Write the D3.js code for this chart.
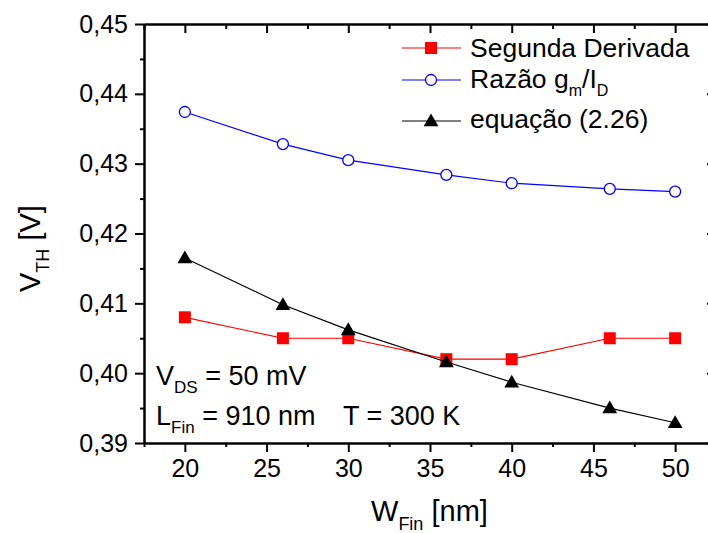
<!DOCTYPE html>
<html><head><meta charset="utf-8">
<script src="https://cdnjs.cloudflare.com/ajax/libs/d3/7.8.5/d3.min.js"></script>
<style>body{margin:0;background:#fff}svg{display:block;font-family:"Liberation Sans",Arial,sans-serif}</style>
</head><body>
<svg id="c" width="708" height="533"></svg>
<script>
const wfin = [20, 26, 30, 36, 40, 46, 50];
const segundaDerivada = [0.408, 0.405, 0.405, 0.402, 0.402, 0.405, 0.405];
const razaoGmId = [0.4374, 0.4328, 0.4305, 0.4284, 0.4272, 0.4264, 0.4260];
const equacao = [0.4165, 0.4098, 0.4062, 0.4016, 0.3987, 0.3950, 0.3929];
const xTicks = [20, 25, 30, 35, 40, 45, 50];
const xMinor = [17.5, 22.5, 27.5, 32.5, 37.5, 42.5, 47.5, 52.5];
const yTicks = [0.39, 0.40, 0.41, 0.42, 0.43, 0.44, 0.45];
const yMinor = [0.395, 0.405, 0.415, 0.425, 0.435, 0.445];

const svg = d3.select("#c");
const L = 144, R = 716, T = 24, B = 443;
const x = d3.scaleLinear().domain([17.5, 52.5]).range([L, R]);
const y = d3.scaleLinear().domain([0.39, 0.45]).range([B, T]);
const fmt = d => d3.format(".2f")(d).replace(".", ",");

function styleAxis(g){ g.select(".domain").attr("stroke","#000").attr("stroke-width",2);
  g.selectAll(".tick line").attr("stroke","#000").attr("stroke-width",2);
  g.selectAll("text").attr("fill","#000").style("font-size","25px").style("font-family","'Liberation Sans',Arial,sans-serif"); }

// bottom
svg.append("g").attr("transform",`translate(0,${B})`)
  .call(d3.axisBottom(x).tickValues(xTicks).tickSize(9).tickPadding(7).tickSizeOuter(0))
  .call(styleAxis);
svg.append("g").attr("transform",`translate(0,${B})`)
  .call(d3.axisBottom(x).tickValues(xMinor).tickSize(4).tickFormat("").tickSizeOuter(0))
  .call(styleAxis);
// top
svg.append("g").attr("transform",`translate(0,${T})`)
  .call(d3.axisBottom(x).tickValues(xTicks).tickSize(9).tickFormat("").tickSizeOuter(0))
  .call(styleAxis);
svg.append("g").attr("transform",`translate(0,${T})`)
  .call(d3.axisBottom(x).tickValues(xMinor).tickSize(5).tickFormat("").tickSizeOuter(0))
  .call(styleAxis);
// left
svg.append("g").attr("transform",`translate(${L},0)`)
  .call(d3.axisLeft(y).tickValues(yTicks).tickSize(9).tickPadding(7).tickFormat(fmt).tickSizeOuter(0))
  .call(styleAxis);
svg.append("g").attr("transform",`translate(${L},0)`)
  .call(d3.axisLeft(y).tickValues(yMinor).tickSize(4).tickFormat("").tickSizeOuter(0))
  .call(styleAxis);
// right
svg.append("g").attr("transform",`translate(${R},0)`)
  .call(d3.axisLeft(y).tickValues(yTicks).tickSize(9).tickFormat("").tickSizeOuter(0))
  .call(styleAxis);

const series = [
  {name:"Segunda Derivada", vals:segundaDerivada, color:"#ff0000", sym:"square"},
  {name:"Razão", vals:razaoGmId, color:"#0000ff", sym:"circle"},
  {name:"equação (2.26)", vals:equacao, color:"#000000", sym:"triangle"}
];
const line = d3.line().x(d=>x(d[0])).y(d=>y(d[1]));
function marker(g, s, cx, cy){
  if(s.sym==="square") g.append("rect").attr("x",cx-6).attr("y",cy-6).attr("width",12).attr("height",12).attr("fill",s.color);
  else if(s.sym==="circle") g.append("circle").attr("cx",cx).attr("cy",cy).attr("r",5.5).attr("fill","#fff").attr("stroke",s.color).attr("stroke-width",1.3);
  else g.append("path").attr("d",d3.symbol(d3.symbolTriangle,95)()).attr("transform",`translate(${cx},${cy+1})`).attr("fill",s.color);
}
series.forEach(s=>{
  const pts = wfin.map((w,i)=>[w,s.vals[i]]);
  svg.append("path").attr("d",line(pts)).attr("fill","none").attr("stroke",s.color).attr("stroke-width",1.2);
  const g = svg.append("g");
  pts.forEach(p=>marker(g,s,x(p[0]),y(p[1])));
});

// legend
const legY = [48, 80, 121];
series.forEach((s,i)=>{
  svg.append("line").attr("x1",402).attr("x2",461).attr("y1",legY[i]).attr("y2",legY[i]).attr("stroke",s.color).attr("stroke-width",1.2);
  marker(svg, s, 431, legY[i]);
});
const tx = (xx,yy,size)=>svg.append("text").attr("x",xx).attr("y",yy).style("font-size",size+"px").attr("fill","#000");
tx(470,57,26.5).text("Segunda Derivada");
{ const t = tx(470,88,26.5); t.append("tspan").text("Razão g");
  t.append("tspan").attr("dy",8).style("font-size","16px").text("m");
  t.append("tspan").attr("dy",-8).text("/I");
  t.append("tspan").attr("dy",8).style("font-size","16px").text("D"); }
tx(470,128,26.5).text("equação (2.26)");

// annotations
{ const t = tx(156,385,27); t.append("tspan").text("V");
  t.append("tspan").attr("dy",8).style("font-size","17px").text("DS");
  t.append("tspan").attr("dy",-8).text(" = 50 mV"); }
{ const t = tx(156,425,27); t.append("tspan").text("L");
  t.append("tspan").attr("dy",8).style("font-size","17px").text("Fin");
  t.append("tspan").attr("dy",-8).text(" = 910 nm"); }
tx(343,425,27).text("T = 300 K");

// axis titles
{ const t = svg.append("text").attr("x",371).attr("y",521).style("font-size","29px");
  t.append("tspan").text("W");
  t.append("tspan").attr("dy",9).style("font-size","18px").text("Fin");
  t.append("tspan").attr("dy",-9).text(" [nm]"); }
{ const t = svg.append("text").attr("transform","translate(40,292) rotate(-90)").style("font-size","29px");
  t.append("tspan").text("V");
  t.append("tspan").attr("dy",9).style("font-size","18px").text("TH");
  t.append("tspan").attr("dy",-9).text(" [V]"); }
</script>
</body></html>
